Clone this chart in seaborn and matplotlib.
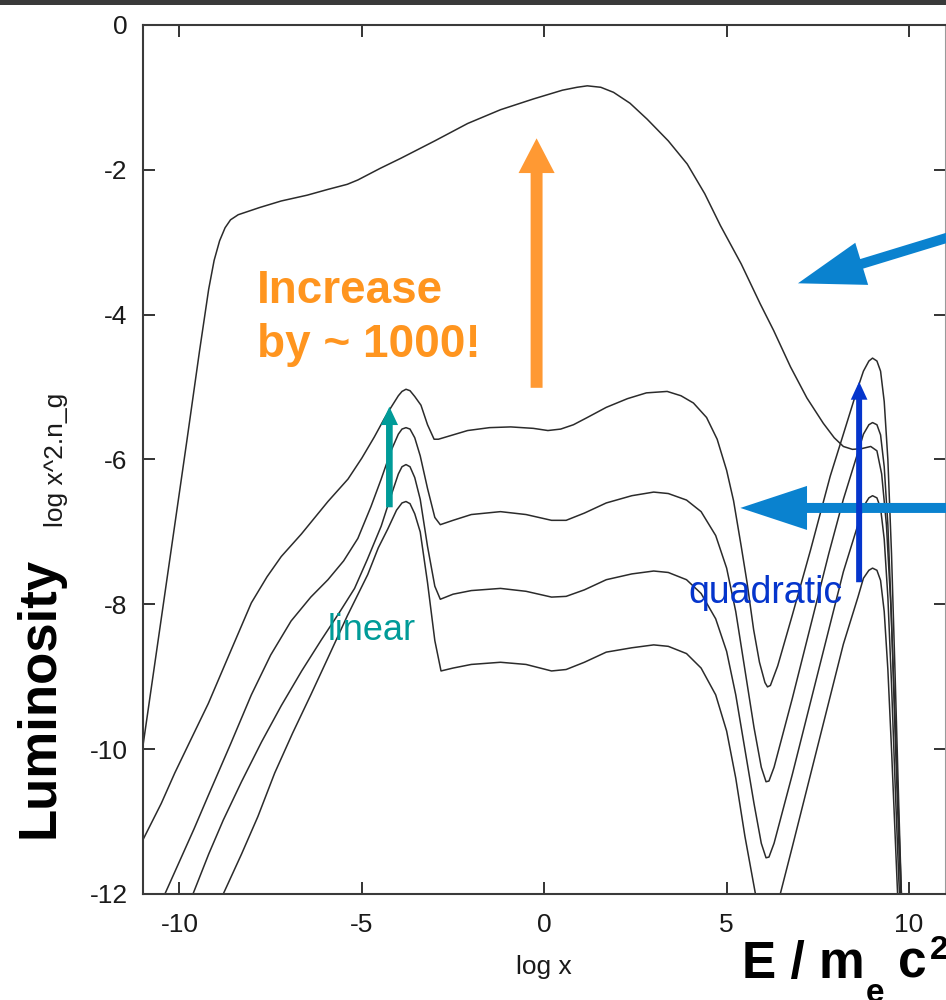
import matplotlib
matplotlib.use("Agg")
import matplotlib.pyplot as plt
import pandas as pd
import seaborn as sns
from matplotlib.patches import Rectangle

# ---- spectra: log x  vs  log x^2 n_g ----
c0_x = [-11.0, -10.6, -10.2, -9.8, -9.45, -9.2, -9.05, -8.9, -8.75, -8.6, -8.39, -7.8,
        -7.21, -6.5, -5.93, -5.4, -5.11, -4.5, -3.93, -3.0, -2.1, -1.2, -0.29, 0.5, 0.9,
        1.18, 1.55, 1.9, 2.35, 2.82, 3.4, 3.92, 4.4, 4.83, 5.4, 5.92, 6.29, 6.75, 7.2, 7.65,
        7.95, 8.2, 8.45, 8.7, 8.95, 9.12, 9.25, 9.38, 9.5, 9.62, 9.74, 9.85]
c0_y = [-9.95, -8.55, -7.15, -5.75, -4.5, -3.65, -3.25, -2.98, -2.8, -2.69, -2.62, -2.52,
        -2.43, -2.35, -2.27, -2.2, -2.14, -1.98, -1.84, -1.6, -1.36, -1.17, -1.02, -0.9, -0.86,
        -0.84, -0.86, -0.93, -1.08, -1.3, -1.6, -1.92, -2.33, -2.77, -3.3, -3.85, -4.22, -4.72, -5.15, -5.5,
        -5.7, -5.82, -5.86, -5.85, -5.82, -5.88, -6.2, -6.9, -8.0, -9.6, -11.3, -12.8]

c1_x = [-11.0, -10.5, -10.13, -9.7, -9.21, -8.6, -8.03, -7.6, -7.21, -6.66, -5.93, -5.38,
        -5.0, -4.66, -4.4, -4.2, -4.0, -3.9, -3.79, -3.68, -3.55, -3.38, -3.2, -3.02, -2.9, -2.5, -2.1,
        -1.5, -0.92, -0.3, 0.1, 0.45, 0.8, 1.18, 1.7, 2.28, 2.8, 3.37, 3.75, 4.09, 4.45,
        4.74, 5.0, 5.19, 5.4, 5.56, 5.74, 5.9, 6.05, 6.12, 6.2, 6.4, 6.8, 7.3, 7.84, 8.2, 8.57,
        8.75, 8.9, 9.0, 9.12, 9.22, 9.32, 9.42, 9.52, 9.62, 9.72, 9.82]
c1_y = [-11.25, -10.75, -10.33, -9.88, -9.37, -8.65, -7.98, -7.62, -7.34, -7.03, -6.58, -6.27,
        -5.98, -5.69, -5.45, -5.28, -5.12, -5.06, -5.03, -5.05, -5.13, -5.25, -5.52, -5.72, -5.72, -5.66, -5.6,
        -5.56, -5.55, -5.57, -5.6, -5.58, -5.52, -5.42, -5.28, -5.16, -5.08, -5.06, -5.12, -5.22, -5.42,
        -5.72, -6.15, -6.57, -7.2, -7.7, -8.35, -8.8, -9.08, -9.14, -9.12, -8.85, -8.15, -7.25, -6.23, -5.65, -5.05,
        -4.78, -4.64, -4.6, -4.64, -4.78, -5.2, -6.0, -7.3, -9.0, -10.8, -12.5]

c2_x = [-10.4, -10.0, -9.6, -9.21, -8.6, -8.03, -7.5, -6.94, -6.4, -5.93, -5.5, -5.11,
        -4.75, -4.47, -4.2, -4.0, -3.9, -3.79, -3.68, -3.55, -3.4, -3.2, -3.0, -2.85, -2.5, -2.0, -1.2,
        -0.5, 0.2, 0.6, 1.1, 1.7, 2.4, 3.0, 3.4, 3.9, 4.3, 4.7, 5.0, 5.25, 5.5, 5.75,
        5.95, 6.08, 6.16, 6.3, 6.8, 7.3, 7.8, 8.2, 8.6, 8.75, 8.9, 9.0, 9.12, 9.22, 9.32,
        9.42, 9.52, 9.62, 9.72, 9.82]
c2_y = [-12.0, -11.55, -11.1, -10.64, -9.93, -9.25, -8.7, -8.23, -7.9, -7.66, -7.4, -7.09,
        -6.65, -6.27, -5.88, -5.65, -5.58, -5.56, -5.58, -5.7, -5.95, -6.4, -6.8, -6.9, -6.84, -6.76, -6.72,
        -6.76, -6.84, -6.84, -6.74, -6.6, -6.5, -6.45, -6.47, -6.56, -6.72, -7.05, -7.5, -8.1, -8.9, -9.7,
        -10.25, -10.45, -10.44, -10.25, -9.3, -8.3, -7.3, -6.55, -5.9, -5.65, -5.52, -5.49, -5.52, -5.66, -6.1,
        -6.9, -8.2, -9.8, -11.3, -12.6]

c3_x = [-9.63, -9.2, -8.8, -8.3, -7.75, -7.21, -6.65, -6.11, -5.6, -5.2, -4.85, -4.47,
        -4.2, -4.0, -3.9, -3.79, -3.68, -3.55, -3.4, -3.2, -3.0, -2.85, -2.5, -2.0, -1.2, -0.5, 0.2,
        0.6, 1.1, 1.7, 2.4, 3.0, 3.4, 3.9, 4.3, 4.7, 5.0, 5.25, 5.5, 5.75, 5.95, 6.08, 6.16,
        6.3, 6.8, 7.3, 7.8, 8.2, 8.6, 8.75, 8.9, 9.0, 9.12, 9.22, 9.32, 9.42, 9.52, 9.62,
        9.72, 9.82]
c3_y = [-12.0, -11.45, -10.98, -10.45, -9.9, -9.4, -8.92, -8.49, -8.1, -7.78, -7.38, -6.92,
        -6.5, -6.2, -6.1, -6.07, -6.1, -6.25, -6.55, -7.2, -7.75, -7.93, -7.86, -7.81, -7.78, -7.82, -7.9,
        -7.89, -7.8, -7.66, -7.58, -7.54, -7.56, -7.66, -7.85, -8.2, -8.65, -9.25, -10.0, -10.75, -11.3, -11.5, -11.49,
        -11.3, -10.35, -9.35, -8.35, -7.55, -6.9, -6.65, -6.53, -6.5, -6.53, -6.67, -7.1, -7.9, -9.1, -10.5,
        -11.8, -12.8]

c4_x = [-8.8, -8.3, -7.85, -7.39, -6.9, -6.4, -5.93, -5.4, -4.84, -4.55, -4.29, -4.05,
        -3.9, -3.79, -3.68, -3.55, -3.4, -3.2, -3.0, -2.83, -2.5, -2.0, -1.2, -0.5, 0.2, 0.6, 1.1,
        1.7, 2.4, 3.0, 3.4, 3.9, 4.3, 4.7, 5.0, 5.25, 5.5, 5.79, 5.95, 6.11, 6.3, 6.47,
        6.8, 7.3, 7.8, 8.2, 8.6, 8.75, 8.9, 9.0, 9.12, 9.22, 9.32, 9.42, 9.52, 9.62, 9.72]
c4_y = [-12.0, -11.45, -10.93, -10.33, -9.78, -9.25, -8.74, -8.16, -7.59, -7.22, -6.96, -6.7,
        -6.6, -6.58, -6.61, -6.75, -7.0, -7.7, -8.5, -8.92, -8.88, -8.83, -8.8, -8.83, -8.92, -8.9, -8.8,
        -8.66, -8.6, -8.56, -8.58, -8.68, -8.88, -9.25, -9.75, -10.4, -11.2, -12.0, -12.45, -12.6, -12.4, -12.0,
        -11.35, -10.35, -9.35, -8.55, -7.9, -7.64, -7.53, -7.5, -7.53, -7.67, -8.1, -8.9, -10.0, -11.2, -12.4]

x_ticks = [-10, -5, 0, 5, 10]
y_ticks = [-12, -10, -8, -6, -4, -2, 0]

W, H = 946, 1000


def fpos(px, py):
    """pixel position -> figure fraction"""
    return px / W, 1 - py / H


sns.set_theme(style="ticks")
plt.rcParams["font.family"] = ["Liberation Sans", "DejaVu Sans"]
plt.rcParams["axes.unicode_minus"] = False

fig = plt.figure(figsize=(W / 100, H / 100), dpi=100)
fig.patch.set_facecolor("white")
ax = fig.add_axes([143 / W, 1 - 894 / H, (945.5 - 143) / W, (894 - 25) / H])

frames = []
for name, xs, ys in [("c0", c0_x, c0_y), ("c1", c1_x, c1_y), ("c2", c2_x, c2_y),
                     ("c3", c3_x, c3_y), ("c4", c4_x, c4_y)]:
    frames.append(pd.DataFrame({"logx": xs, "logy": ys, "curve": name}))
df = pd.concat(frames, ignore_index=True)

sns.lineplot(data=df, x="logx", y="logy", units="curve", estimator=None, sort=False,
             color="#2b2b2b", linewidth=1.1, legend=False, ax=ax)

ax.set_xlim(-11, 11)
ax.set_ylim(-12, 0)
ax.set_xticks(x_ticks)
ax.set_yticks(y_ticks)
ax.tick_params(direction="in", length=8.5, width=1.4, color="#333333",
               top=True, right=True, labelsize=19, labelcolor="#1a1a1a")
ax.tick_params(axis="y", pad=11)
ax.tick_params(axis="x", pad=13.5)
for sp in ax.spines.values():
    sp.set_color("#3a3a3a")
    sp.set_linewidth(1.5)
ax.spines["right"].set_color("#9a9a9a")

ax.set_xlabel("log x", fontsize=19, color="#1a1a1a")
ax.xaxis.set_label_coords(0.5, -(955 - 894) / 869)
ax.set_ylabel("log x^2.n_g", fontsize=19, color="#1a1a1a")
ax.yaxis.set_label_coords((68 - 143) / 802.5, 0.5)


def arrow(x0, y0, x1, y1, color, tail, hw, hl):
    ax.annotate("", xy=(x1, y1), xytext=(x0, y0), xycoords="data", textcoords="data",
                annotation_clip=False,
                arrowprops=dict(arrowstyle=f"simple,head_length={hl},head_width={hw},tail_width={tail}",
                                mutation_scale=1, color=color, lw=0, shrinkA=0, shrinkB=0,
                                clip_on=False))


# annotation arrows
arrow(-0.21, -5.01, -0.21, -1.565, "#FF9933", 8.6, 26, 25)
arrow(11.94, -2.80, 6.955, -3.567, "#0A82CF", 7.2, 31.7, 48)
arrow(12.2, -6.669, 5.376, -6.669, "#0A82CF", 7.2, 31.7, 48)
arrow(8.632, -7.695, 8.632, -4.925, "#0535CC", 4.3, 12, 13)
arrow(-4.246, -6.66, -4.246, -5.271, "#009B98", 4.8, 12.5, 13.2)

# annotation texts
orange = "#FF951F"
fig.text(*fpos(257, 303), "Increase", fontsize=33, fontweight="bold", color=orange,
         ha="left", va="baseline")
fig.text(*fpos(257, 357), "by ~ 1000!", fontsize=33, fontweight="bold", color=orange,
         ha="left", va="baseline")
fig.text(*fpos(328, 640), "linear", fontsize=26, color="#009B98", ha="left", va="baseline")
fig.text(*fpos(688, 603), "quadratic", fontsize=27, color="#0535CC", ha="left", va="baseline")

fig.text(*fpos(53, 697.5), "Luminosity", fontsize=38, fontweight="bold", color="black",
         rotation=90, rotation_mode="anchor", ha="center", va="baseline")

fig.text(*fpos(742, 978), "E / m", fontsize=37, fontweight="bold", color="black",
         ha="left", va="baseline")
fig.text(*fpos(866, 1002), "e", fontsize=24, fontweight="bold", color="black",
         ha="left", va="baseline")
fig.text(*fpos(898, 978), "c", fontsize=37, fontweight="bold", color="black",
         ha="left", va="baseline")
fig.text(*fpos(930, 959), "2", fontsize=24, fontweight="bold", color="black",
         ha="left", va="baseline")

# dark strip along the top edge
fig.patches.append(Rectangle((0, 1 - 4.5 / H), 1, 4.5 / H, transform=fig.transFigure,
                             facecolor="#3a3a3a", edgecolor="none", zorder=10))

fig.savefig("out.png", dpi=100)
